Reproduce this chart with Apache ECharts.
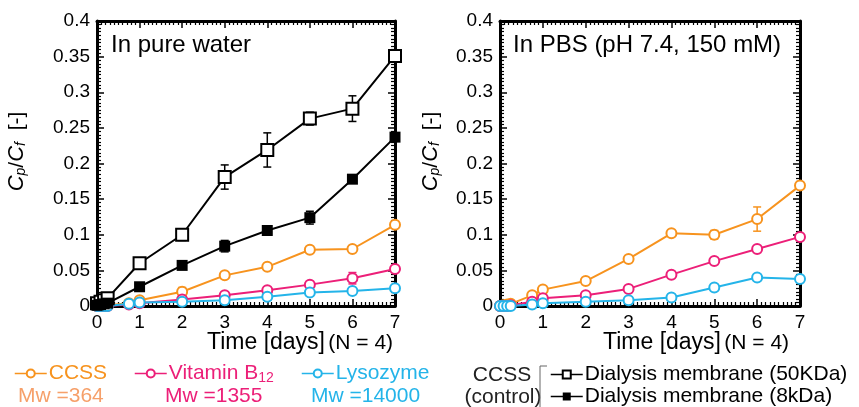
<!DOCTYPE html>
<html>
<head>
<meta charset="utf-8">
<script src="https://cdn.jsdelivr.net/npm/echarts@6.0.0/dist/echarts.min.js"></script>
<style>
html, body { margin: 0; padding: 0; background: #fff; }
#chart { width: 859px; height: 407px; }
</style>
</head>
<body>
<div id="chart"></div>
<script>
// time points [days]
var tMembrane = [0, 0.083, 0.167, 0.25, 1, 2, 3, 4, 5, 6, 7];
var tSolute = [0, 0.083, 0.167, 0.25, 0.75, 1, 2, 3, 4, 5, 6, 7];

// pure water
var waterMem50 = [0.004, 0.006, 0.008, 0.011, 0.060, 0.100, 0.181, 0.219, 0.263, 0.277, 0.351];
var waterMem50Err = [0, 0, 0, 0, 0, 0.008, 0.017, 0.024, 0.009, 0.018, 0.004];
var waterMem8 = [0.001, 0.002, 0.003, 0.004, 0.027, 0.057, 0.084, 0.106, 0.124, 0.178, 0.237];
var waterMem8Err = [0, 0, 0, 0, 0, 0, 0.008, 0.006, 0.009, 0.005, 0.004];
var waterCCSS = [0, 0, 0, 0.001, 0.004, 0.008, 0.020, 0.043, 0.055, 0.079, 0.080, 0.114];
var waterCCSSErr = [0, 0, 0, 0, 0, 0, 0.006, 0, 0, 0.004, 0, 0];
var waterB12 = [0, 0, 0, 0, 0.002, 0.004, 0.009, 0.015, 0.022, 0.030, 0.039, 0.052];
var waterB12Err = [0, 0, 0, 0, 0, 0, 0, 0, 0, 0, 0.008, 0];
var waterLyso = [0, 0, 0, 0, 0.003, 0.005, 0.006, 0.008, 0.013, 0.019, 0.021, 0.025];

// PBS
var pbsCCSS = [0, 0.001, 0.002, 0.003, 0.015, 0.023, 0.035, 0.066, 0.102, 0.100, 0.122, 0.169];
var pbsCCSSErr = [0, 0, 0, 0, 0, 0, 0, 0, 0, 0.006, 0.017, 0];
var pbsB12 = [0, 0, 0, 0.001, 0.006, 0.011, 0.015, 0.024, 0.044, 0.063, 0.080, 0.097];
var pbsLyso = [0, 0, 0, 0, 0.002, 0.004, 0.006, 0.008, 0.012, 0.026, 0.040, 0.038];

var orange = '#F7931E', pink = '#EC1F78', cyan = '#24B4E9';
var font = "'Liberation Sans', Arial, sans-serif";

var myChart = echarts.init(document.getElementById('chart'));

function pairs(t, v) {
  return t.map(function (x, i) { return [x, v[i]]; });
}
function errPairs(t, v, e) {
  return t.map(function (x, i) { return [x, v[i], e[i]]; }).filter(function (d) { return d[2] > 0; });
}

function renderErr(params, api) {
  var x = api.value(0), y = api.value(1), e = api.value(2);
  var p1 = api.coord([x, y + e]), p2 = api.coord([x, y - e]);
  var w = 4;
  var st = { stroke: api.visual('color'), lineWidth: 1.5 };
  return {
    type: 'group',
    children: [
      { type: 'line', shape: { x1: p1[0], y1: p1[1], x2: p2[0], y2: p2[1] }, style: st },
      { type: 'line', shape: { x1: p1[0] - w, y1: p1[1], x2: p1[0] + w, y2: p1[1] }, style: st },
      { type: 'line', shape: { x1: p2[0] - w, y1: p2[1], x2: p2[0] + w, y2: p2[1] }, style: st }
    ]
  };
}

function solute(name, color, t, v, g) {
  return {
    name: name, type: 'line', xAxisIndex: g * 2, yAxisIndex: g * 2,
    data: pairs(t, v), symbol: 'emptyCircle', symbolSize: 10,
    itemStyle: { color: color, borderWidth: 1.5 },
    lineStyle: { color: color, width: 2 }, animation: false
  };
}
function errSeries(color, t, v, e, g) {
  return {
    type: 'custom', xAxisIndex: g * 2, yAxisIndex: g * 2,
    data: errPairs(t, v, e), renderItem: renderErr,
    itemStyle: { color: color }, animation: false, z: 1
  };
}

function xAxes(g) {
  var base = {
    type: 'value', gridIndex: g, min: 0, max: 7, interval: 1,
    axisLine: { onZero: false, lineStyle: { color: '#000', width: 3 } },
    axisTick: { inside: true, length: 7, lineStyle: { color: '#000', width: 1.5 } },
    minorTick: { show: true, splitNumber: 10, length: 4, lineStyle: { color: '#000', width: 1.2 } },
    splitLine: { show: false }
  };
  var bottom = Object.assign({}, base, {
    position: 'bottom',
    axisLabel: { color: '#000', fontSize: 19, fontFamily: font, margin: 7 }
  });
  var top = Object.assign({}, base, { position: 'top', axisLabel: { show: false } });
  return [bottom, top];
}
function yAxes(g, gap) {
  var base = {
    type: 'value', gridIndex: g, min: 0, max: 0.4, interval: 0.05,
    axisLine: { onZero: false, lineStyle: { color: '#000', width: 3 } },
    axisTick: { inside: true, length: 7, lineStyle: { color: '#000', width: 1.5 } },
    minorTick: { show: true, splitNumber: 10, length: 4, lineStyle: { color: '#000', width: 1.2 } },
    splitLine: { show: false }
  };
  var left = Object.assign({}, base, {
    position: 'left',
    axisLabel: { color: '#000', fontSize: 19, fontFamily: font, margin: 7 },
    name: '{i|C}{s|p}{n|/}{i|C}{s|f}{n|  [-]}',
    nameLocation: 'middle', nameRotate: 90, nameGap: gap,
    nameTextStyle: {
      padding: [0, 0, 0, 24],
      rich: {
        i: { fontSize: 22, fontStyle: 'italic', fontFamily: font, color: '#000' },
        s: { fontSize: 14, fontStyle: 'italic', fontFamily: font, color: '#000', padding: [8, 0, 0, 0] },
        n: { fontSize: 21, fontFamily: font, color: '#000' }
      }
    }
  });
  var right = Object.assign({}, base, { position: 'right', axisLabel: { show: false } });
  return [left, right];
}

function legendAt(name, color, left, top, rich) {
  var lg = {
    data: [{ name: name, textStyle: { color: color } }],
    left: left, top: top, padding: 0, itemWidth: 32, itemHeight: 10,
    selectedMode: false,
    lineStyle: { width: 1.5 },
    textStyle: { fontSize: 21, fontFamily: font, color: color, padding: [0, 0, 0, -3] }
  };
  if (rich) {
    lg.formatter = function () { return '{a|Vitamin B}{s|12}'; };
    lg.textStyle.rich = {
      a: { fontSize: 21, fontFamily: font, color: color },
      s: { fontSize: 14, fontFamily: font, color: color, padding: [9, 0, 0, 0] }
    };
  }
  return lg;
}

function textEl(x, y, text, size, color, align) {
  return {
    type: 'text', x: x, y: y,
    style: { text: text, fontSize: size, fontFamily: font, fill: color, align: align || 'left', verticalAlign: 'middle' }
  };
}
function axisTitle(x, y) {
  return {
    type: 'text', x: x, y: y,
    style: {
      text: '{t|Time [days]} {n|(N = 4)}', verticalAlign: 'middle',
      rich: {
        t: { fontSize: 23, fontFamily: font, fill: '#000' },
        n: { fontSize: 21, fontFamily: font, fill: '#000' }
      }
    }
  };
}

var option = {
  backgroundColor: '#fff',
  animation: false,
  title: [
    { text: 'In pure water', left: 106, top: 28, textStyle: { fontSize: 24, fontWeight: 'normal', fontFamily: font, color: '#000' } },
    { text: 'In PBS (pH 7.4, 150 mM)', left: 508, top: 28, textStyle: { fontSize: 24, fontWeight: 'normal', fontFamily: font, color: '#000' } }
  ],
  grid: [
    { left: 97, top: 21, width: 298, height: 285 },
    { left: 500, top: 21, width: 300, height: 285 }
  ],
  xAxis: xAxes(0).concat(xAxes(1)),
  yAxis: yAxes(0, 69).concat(yAxes(1, 58)),
  legend: [
    legendAt('CCSS', orange, 14, 363),
    legendAt('Vitamin B12', pink, 134, 363, true),
    legendAt('Lysozyme', cyan, 301, 363),
    legendAt('Dialysis membrane (50KDa)', '#000', 550, 364),
    legendAt('Dialysis membrane (8kDa)', '#000', 550, 386)
  ],
  graphic: [
    textEl(18, 396, 'Mw =364', 21, '#F6A06A'),
    textEl(165, 396, 'Mw =1355', 21, pink),
    textEl(311, 396, 'Mw =14000', 21, cyan),
    textEl(502, 375, 'CCSS', 21, '#222', 'center'),
    textEl(503, 397, '(control)', 21, '#222', 'center'),
    { type: 'polyline', shape: { points: [[547, 366], [540, 366], [540, 407]] }, style: { stroke: '#666', lineWidth: 1, fill: null } },
    axisTitle(207, 343),
    axisTitle(603, 343)
  ],
  series: [
    solute('CCSS', orange, tSolute, waterCCSS, 0),
    solute('Vitamin B12', pink, tSolute, waterB12, 0),
    solute('Lysozyme', cyan, tSolute, waterLyso, 0),
    {
      name: 'Dialysis membrane (50KDa)', type: 'line', xAxisIndex: 0, yAxisIndex: 0,
      data: pairs(tMembrane, waterMem50), symbol: 'emptyRect', symbolSize: 12,
      itemStyle: { color: '#000', borderWidth: 1.5 }, lineStyle: { color: '#000', width: 2 }, z: 3
    },
    {
      name: 'Dialysis membrane (8kDa)', type: 'line', xAxisIndex: 0, yAxisIndex: 0,
      data: pairs(tMembrane, waterMem8), symbol: 'rect', symbolSize: 11,
      itemStyle: { color: '#000' }, lineStyle: { color: '#000', width: 2 }, z: 3
    },
    errSeries('#000', tMembrane, waterMem50, waterMem50Err, 0),
    errSeries('#000', tMembrane, waterMem8, waterMem8Err, 0),
    errSeries(orange, tSolute, waterCCSS, waterCCSSErr, 0),
    errSeries(pink, tSolute, waterB12, waterB12Err, 0),
    solute('CCSS', orange, tSolute, pbsCCSS, 1),
    solute('Vitamin B12', pink, tSolute, pbsB12, 1),
    solute('Lysozyme', cyan, tSolute, pbsLyso, 1),
    errSeries(orange, tSolute, pbsCCSS, pbsCCSSErr, 1)
  ]
};
myChart.setOption(option);
</script>
</body>
</html>
